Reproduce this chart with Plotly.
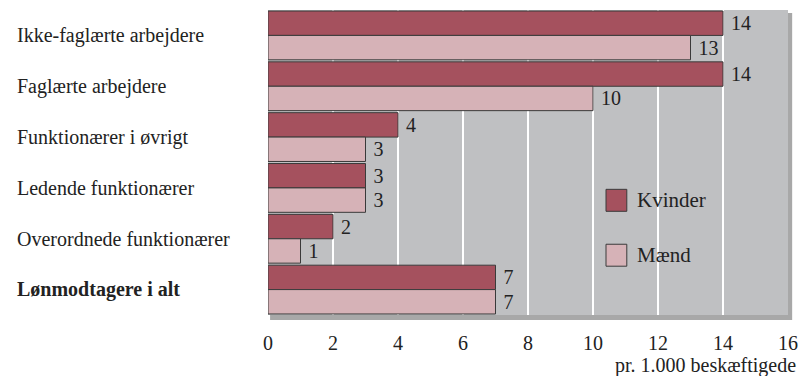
import plotly.graph_objects as go

categories = ["Ikke-faglærte arbejdere", "Faglærte arbejdere", "Funktionærer i øvrigt",
              "Ledende funktionærer", "Overordnede funktionærer", "Lønmodtagere i alt"]
tick_labels = ["Ikke-faglærte arbejdere", "Faglærte arbejdere", "Funktionærer i øvrigt",
               "Ledende funktionærer", "Overordnede funktionærer", "<b>Lønmodtagere i alt</b>"]
series_names = ["Kvinder", "Mænd"]
kvinder = [14, 14, 4, 3, 2, 7]
maend = [13, 10, 3, 3, 1, 7]
x_ticks = [0, 2, 4, 6, 8, 10, 12, 14, 16]
colors = ["#a5515e", "#d6b2b7"]

FONT = "Liberation Serif, Times New Roman, serif"
TXT = "#222222"

fig = go.Figure()
for name, vals, col in zip(series_names, [kvinder, maend], colors):
    fig.add_trace(go.Bar(
        y=categories, x=vals, name=name, orientation="h",
        marker=dict(color=col, line=dict(color="#3a3a3a", width=1)),
        text=[" " + str(v) for v in vals], textposition="outside", cliponaxis=False,
        textfont=dict(family=FONT, size=20, color=TXT),
        showlegend=False,
    ))

# plot frame: shadow + grey background
shapes = [
    dict(type="rect", xref="paper", yref="paper", x0=0.004, x1=1.008, y0=-0.016, y1=0.99,
         fillcolor="#a8a8a8", line=dict(width=0), layer="below"),
    dict(type="rect", xref="paper", yref="paper", x0=0, x1=1, y0=0, y1=1,
         fillcolor="#bfc0c2", line=dict(width=0), layer="below"),
]
annotations = []

# category labels, left aligned
for cat, lab in zip(categories, tick_labels):
    annotations.append(dict(text=lab, xref="paper", yref="y", x=-0.4865, y=cat,
                            xanchor="left", yanchor="middle", showarrow=False,
                            font=dict(family=FONT, size=20, color=TXT)))

# legend (drawn as boxes + labels)
legend_y = [0.376, 0.196]
for name, col, ly in zip(series_names, colors, legend_y):
    shapes.append(dict(type="rect", xref="paper", yref="paper",
                       x0=0.650, x1=0.690, y0=ly - 0.036, y1=ly + 0.036,
                       fillcolor=col, line=dict(color="#3a3a3a", width=1), layer="above"))
    annotations.append(dict(text=name, xref="paper", yref="paper", x=0.706, y=ly,
                            xanchor="left", yanchor="middle", showarrow=False,
                            font=dict(family=FONT, size=21, color=TXT)))

annotations.append(dict(text="pr. 1.000 beskæftigede", xref="paper", yref="paper",
                        x=1.019, y=-0.122, xanchor="right", yanchor="top", showarrow=False,
                        font=dict(family=FONT, size=20, color=TXT)))

fig.update_layout(
    width=800, height=376,
    margin=dict(l=268, r=12, t=10, b=61, autoexpand=False),
    paper_bgcolor="white",
    plot_bgcolor="rgba(0,0,0,0)",
    barmode="group", bargap=0.04, bargroupgap=0.0,
    font=dict(family=FONT, size=20, color=TXT),
    showlegend=False,
    xaxis=dict(range=[0, 16], tickvals=x_ticks, showgrid=True, gridcolor="white",
               gridwidth=1.5, zeroline=False, showline=False, ticks="",
               tickfont=dict(family=FONT, size=20, color=TXT), ticklabelstandoff=14,
               automargin=False),
    yaxis=dict(autorange="reversed", showticklabels=False,
               showgrid=False, zeroline=False, showline=False, ticks="",
               automargin=False),
    shapes=shapes,
    annotations=annotations,
)

# remove the page's default 8px body margin so the figure fills the window exactly
fig.write_html("out.html", config={"displayModeBar": False},
               post_script="document.body.style.margin='0';")
